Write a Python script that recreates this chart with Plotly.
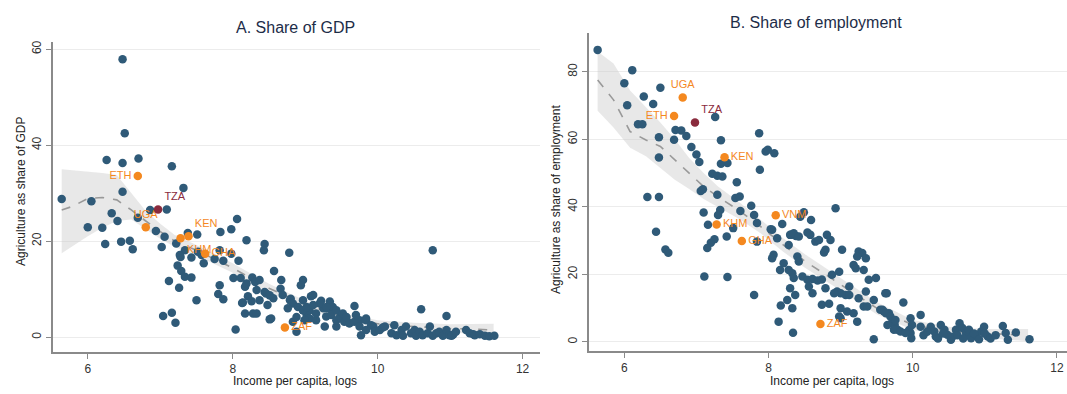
import plotly.graph_objects as go

# ---------------- Panel A: share of GDP ----------------
gdp_x = [6.48, 6.51, 6.26, 6.48, 6.70, 7.16, 7.32, 6.48, 5.64, 6.05, 6.86, 7.09, 6.33, 6.41, 6.69,
         6.00, 6.20, 6.94, 7.06, 7.38, 7.51, 7.83, 7.98, 8.06, 8.19, 6.24, 6.46, 6.58, 6.62, 7.02,
         7.22, 7.34, 7.28, 7.43, 7.57, 7.75, 7.87, 8.08, 7.24, 7.29, 7.34, 7.43, 7.12, 7.26, 7.60,
         7.82, 7.80, 7.87, 7.50, 8.01, 8.11, 8.17, 8.13, 8.17, 7.04, 7.16, 7.21, 8.04, 8.28, 8.33,
         8.44, 8.43, 8.19, 8.27, 8.31, 8.33, 8.46, 8.21, 8.26, 8.48, 8.51, 8.78, 10.76, 8.57, 8.67,
         8.97, 8.94, 8.66, 9.08, 8.80, 8.97, 9.22, 9.34, 9.68, 10.60, 10.95, 8.53, 8.83, 8.37, 8.44,
         8.51, 8.37, 8.56, 8.69, 8.79, 8.83, 8.76, 8.90, 8.97, 9.02, 9.06, 9.11, 9.32, 9.38, 9.48,
         8.14, 8.88, 8.99, 9.15, 9.27, 9.43, 9.61, 9.75, 9.84, 9.94, 10.07, 11.22, 11.32, 11.04,
         9.06, 9.15, 9.25, 9.29, 9.36, 9.43, 9.50, 9.54, 9.61, 9.68, 9.75, 9.77, 9.84, 9.84, 9.91,
         9.96, 10.03, 10.10, 10.19, 10.23, 10.26, 10.33, 10.35, 10.39, 10.46, 10.51, 10.53, 10.58,
         10.62, 10.69, 10.72, 10.76, 10.81, 10.85, 10.90, 10.95, 10.99, 11.02, 11.08, 11.27, 11.34,
         11.41, 11.48, 11.54, 11.61, 8.88, 8.97, 9.02, 9.20, 9.11, 9.29, 9.43, 9.52, 9.57, 9.70,
         7.52, 7.82, 7.98, 7.27]
gdp_y = [57.9, 42.5, 36.9, 36.3, 37.2, 35.6, 31.1, 30.3, 28.8, 28.3, 26.5, 26.6, 25.8, 24.2, 24.9,
         22.9, 22.8, 22.1, 20.9, 21.7, 21.4, 21.9, 22.5, 24.6, 20.2, 19.4, 19.9, 20.1, 18.3, 18.8,
         19.5, 18.1, 16.7, 16.6, 17.1, 16.3, 15.9, 15.9, 14.9, 13.8, 12.6, 12.4, 11.7, 10.3, 15.4,
         10.8, 9.0, 7.9, 7.7, 12.3, 12.3, 10.5, 7.1, 4.9, 4.4, 5.1, 3.0, 1.6, 4.9, 4.9,
         19.4, 18.1, 11.2, 12.4, 11.5, 9.8, 9.1, 8.5, 7.5, 6.7, 3.7, 17.6, 18.1, 13.8, 11.9,
         11.9, 10.8, 10.1, 8.5, 8.0, 7.7, 7.6, 7.4, 6.5, 5.8, 4.4, 3.9, 3.2, 11.9, 9.4,
         8.7, 7.7, 8.1, 8.8, 7.7, 7.0, 6.0, 6.3, 5.6, 4.6, 3.9, 8.8, 6.0, 6.3, 4.2,
         7.2, 4.2, 3.5, 3.5, 2.2, 2.2, 2.9, 3.5, 3.9, 2.2, 2.0, 1.5, 0.6, 0.5,
         5.6, 4.9, 6.0, 4.3, 4.6, 3.5, 3.9, 3.2, 2.9, 3.2, 2.2, 0.4, 3.5, 1.5, 2.5,
         1.1, 1.5, 2.2, 0.8, 2.5, 0.4, 1.5, 0.3, 2.2, 0.8, 1.5, 0.3, 1.1,
         0.4, 0.8, 2.2, 0.3, 0.8, 1.1, 0.3, 1.5, 0.4, 0.3, 1.1, 0.8, 0.4,
         0.6, 0.3, 0.2, 0.3, 1.1, 5.6, 6.3, 7.0, 6.7, 6.3, 5.6, 4.9, 4.2, 4.6,
         17.8, 18.1, 17.4, 17.1]

gdp_hl_names = ["ETH", "UGA", "KHM", "KEN", "GHA", "ZAF"]
gdp_hl_x = [6.69, 6.80, 7.28, 7.39, 7.62, 8.72]
gdp_hl_y = [33.6, 22.9, 20.6, 21.0, 17.4, 2.0]
gdp_hl_pos = ["middle left", "top center", "bottom right", "top right", "middle right", "middle right"]
gdp_tza = (6.97, 26.6)

gdp_fit_x = [5.64, 5.8, 6.0, 6.2, 6.4, 6.6, 6.8, 7.0, 7.2, 7.5, 8.0, 8.5, 9.0, 9.5, 10.0, 10.5, 11.0, 11.6]
gdp_fit_y = [26.5, 27.3, 28.9, 29.1, 28.6, 26.5, 24.2, 22.0, 20.0, 18.1, 14.4, 10.2, 6.8, 4.3, 2.8, 2.2, 1.8, 1.5]
gdp_fit_hi = [35.0, 34.8, 34.5, 34.2, 33.8, 30.0, 26.3, 23.6, 21.3, 19.2, 15.4, 11.1, 7.6, 5.0, 3.5, 3.0, 2.7, 2.8]
gdp_fit_lo = [17.5, 19.0, 21.0, 22.8, 24.2, 24.5, 22.5, 20.5, 18.8, 17.0, 13.4, 9.3, 6.0, 3.6, 2.1, 1.5, 1.0, 0.3]

# ---------------- Panel B: share of employment ----------------
emp_x = [5.63, 6.11, 6.00, 6.04, 6.27, 6.50, 6.40, 6.19, 6.25, 7.26, 6.48, 6.71, 6.79, 6.86, 6.69,
         6.48, 6.93, 7.00, 7.04, 7.34, 7.34, 7.43, 7.22, 7.29, 7.36, 7.56, 7.87, 7.96, 7.99, 8.08,
         7.88, 7.06, 7.09, 7.29, 7.54, 7.60, 6.32, 6.48, 7.76, 7.33, 7.30, 7.61, 7.80, 7.10, 7.16,
         7.51, 7.84, 8.05, 8.19, 7.42, 8.03, 8.12, 8.31, 8.38, 7.25, 7.20, 7.15, 6.44, 6.57, 6.61,
         7.84, 7.11, 7.43, 7.80, 8.49, 8.44, 8.59, 8.93, 8.30, 8.35, 8.42, 8.54, 8.58, 8.28, 8.65,
         8.70, 8.81, 8.86, 8.79, 8.77, 9.02, 8.40, 8.42, 8.07, 8.05, 8.21, 8.33, 8.35, 8.16, 8.28,
         8.47, 8.54, 8.61, 8.68, 8.74, 8.56, 8.61, 8.79, 8.88, 8.98, 9.18, 9.21, 9.32, 9.25, 9.30,
         9.35, 9.23, 9.12, 8.95, 9.00, 9.07, 9.12, 8.91, 9.25, 9.32, 9.39, 9.49, 9.35, 9.62, 9.46,
         8.30, 8.37, 8.26, 8.17, 8.33, 8.14, 8.34, 8.74, 8.84, 9.00, 9.09, 8.98, 9.00, 9.18, 9.23,
         9.37, 9.55, 9.60, 9.67, 9.87, 9.72, 9.75, 9.79, 9.97, 10.11, 9.99, 9.95, 9.97, 10.11, 9.46,
         9.64, 9.58, 9.63, 9.69, 9.76, 9.65, 9.74, 9.83, 9.90, 9.98, 10.25, 10.30, 10.32, 10.39, 10.44,
         10.48, 10.53, 10.60, 10.65, 10.69, 10.74, 10.78, 10.81, 10.88, 10.95, 10.99, 11.04, 11.25, 11.29, 11.32,
         11.43, 11.62, 10.15, 10.20, 10.35, 10.42, 10.55, 10.62, 10.70, 10.85, 10.92, 11.00, 11.08, 11.15]
emp_y = [86.5, 80.5, 76.6, 70.1, 72.7, 75.3, 70.5, 64.5, 64.5, 66.6, 60.6, 62.8, 62.6, 61.0, 59.9,
         54.6, 57.7, 55.5, 53.3, 59.7, 52.8, 53.0, 49.8, 49.2, 49.0, 47.3, 61.8, 56.4, 56.9, 55.9,
         51.0, 44.7, 45.2, 43.6, 42.6, 43.1, 42.9, 42.9, 40.3, 39.1, 37.6, 38.8, 37.6, 38.3, 34.7,
         33.7, 35.2, 33.2, 34.9, 31.2, 33.4, 30.7, 31.7, 31.4, 30.4, 29.4, 27.8, 32.6, 27.4, 26.4,
         29.7, 19.4, 19.2, 13.9, 38.4, 37.1, 36.1, 39.6, 31.7, 32.2, 31.2, 32.4, 31.7, 28.7, 29.7,
         30.2, 31.7, 30.2, 27.3, 26.5, 27.3, 25.3, 23.8, 25.8, 24.8, 23.3, 20.3, 18.9, 21.3, 21.3,
         19.4, 18.4, 18.6, 18.2, 18.5, 16.4, 14.4, 15.9, 19.9, 20.8, 22.8, 21.8, 21.3, 26.8, 26.3,
         24.8, 25.3, 16.4, 14.9, 14.4, 13.9, 13.9, 14.4, 12.9, 10.5, 18.4, 18.9, 14.9, 14.4, 12.4,
         15.9, 13.9, 12.4, 10.8, 10.0, 6.0, 2.7, 11.0, 11.3, 10.0, 9.0, 7.5, 7.0, 8.5, 6.0,
         10.5, 9.5, 9.0, 8.5, 11.7, 6.5, 5.0, 3.6, 7.0, 8.0, 5.0, 3.5, 2.6, 4.5, 0.8,
         14.4, 9.5, 8.5, 7.5, 6.5, 5.0, 3.6, 3.1, 2.6, 1.1, 4.5, 3.1, 1.6, 5.0, 3.6,
         2.1, 0.6, 3.6, 5.5, 4.1, 2.6, 3.6, 1.1, 2.1, 3.1, 4.5, 1.6, 4.7, 2.6, 0.6,
         2.8, 0.8, 2.0, 3.0, 1.0, 2.5, 1.5, 2.0, 1.0, 2.5, 0.8, 2.5, 1.0, 2.0]

emp_hl_names = ["UGA", "ETH", "KEN", "VNM", "KHM", "GHA", "ZAF"]
emp_hl_x = [6.81, 6.69, 7.39, 8.10, 7.28, 7.63, 8.72]
emp_hl_y = [72.4, 66.9, 54.7, 37.5, 34.8, 29.9, 5.3]
emp_hl_pos = ["top center", "middle left", "middle right", "middle right", "middle right", "middle right", "middle right"]
emp_tza = (6.98, 65.0)

emp_fit_x = [5.63, 5.85, 6.08, 6.3, 6.5, 6.7, 6.9, 7.1, 7.3, 7.6, 7.9, 8.2, 8.5, 9.0, 9.5, 10.0, 10.5, 11.0, 11.6]
emp_fit_y = [77.6, 71.7, 62.3, 59.8, 57.9, 53.9, 49.8, 46.0, 43.0, 38.8, 34.0, 28.8, 24.0, 17.0, 10.0, 5.0, 3.2, 2.5, 2.0]
emp_fit_hi = [86.0, 82.5, 74.5, 69.5, 65.0, 60.0, 54.5, 50.0, 46.0, 41.3, 36.0, 30.8, 26.0, 18.8, 11.8, 6.5, 4.5, 3.8, 3.8]
emp_fit_lo = [68.5, 63.5, 57.5, 55.0, 51.5, 48.0, 45.3, 42.3, 40.0, 36.3, 32.0, 26.8, 22.0, 15.2, 8.2, 3.5, 1.9, 1.2, 0.2]

x_ticks = [6, 8, 10, 12]
gdp_ticks = [0, 20, 40, 60]
emp_ticks = [0, 20, 40, 60, 80]

BLUE = "#2f5a78"
ORANGE = "#f4881f"
MAROON = "#8a2b3d"
FONT = "Liberation Sans, Arial, sans-serif"

fig = go.Figure()

def add_panel(xa, ya, px, py, hx, hy, names, pos, tza, fx, fy, fhi, flo):
    fig.add_trace(go.Scatter(x=fx + fx[::-1], y=fhi + flo[::-1], fill="toself",
                             fillcolor="rgba(200,200,200,0.42)", line=dict(width=0),
                             mode="lines", xaxis=xa, yaxis=ya, hoverinfo="skip", showlegend=False))
    fig.add_trace(go.Scatter(x=fx, y=fy, mode="lines", line=dict(color="#999999", width=1.6, dash="dash"),
                             xaxis=xa, yaxis=ya, showlegend=False))
    fig.add_trace(go.Scatter(x=px, y=py, mode="markers", marker=dict(color=BLUE, size=8.5),
                             xaxis=xa, yaxis=ya, showlegend=False))
    fig.add_trace(go.Scatter(x=hx, y=hy, mode="markers+text", text=names, textposition=pos,
                             textfont=dict(color=ORANGE, size=11, family=FONT),
                             marker=dict(color=ORANGE, size=8.5),
                             xaxis=xa, yaxis=ya, showlegend=False))
    fig.add_trace(go.Scatter(x=[tza[0]], y=[tza[1]], mode="markers+text", text=["TZA"],
                             textposition="top right",
                             textfont=dict(color=MAROON, size=11, family=FONT),
                             marker=dict(color=MAROON, size=8.5),
                             xaxis=xa, yaxis=ya, showlegend=False))

add_panel("x", "y", gdp_x, gdp_y, gdp_hl_x, gdp_hl_y, gdp_hl_names, gdp_hl_pos, gdp_tza,
          gdp_fit_x, gdp_fit_y, gdp_fit_hi, gdp_fit_lo)
add_panel("x2", "y2", emp_x, emp_y, emp_hl_x, emp_hl_y, emp_hl_names, emp_hl_pos, emp_tza,
          emp_fit_x, emp_fit_y, emp_fit_hi, emp_fit_lo)

W, H = 1067, 394
axis_common = dict(showline=True, linecolor="#8a8a8a", linewidth=1.5, ticks="outside",
                   ticklen=5, tickcolor="#8a8a8a", tickfont=dict(size=12, color="#333333", family=FONT),
                   zeroline=False, automargin=False)

fig.update_layout(
    width=W, height=H, margin=dict(l=0, r=0, t=0, b=0),
    paper_bgcolor="white", plot_bgcolor="white",
    font=dict(family=FONT),
    xaxis=dict(domain=[53 / W, 540 / W], range=[5.52, 12.24], tickvals=x_ticks,
               showgrid=False, anchor="y", **axis_common),
    yaxis=dict(domain=[(H - 352) / H, (H - 42) / H], range=[-3.1, 61.5], tickvals=gdp_ticks,
               showgrid=True, gridcolor="#ececec", gridwidth=1, tickangle=-90, anchor="x", **axis_common),
    xaxis2=dict(domain=[589 / W, 1.0], range=[5.51, 12.14], tickvals=x_ticks,
                showgrid=False, anchor="y2", **axis_common),
    yaxis2=dict(domain=[(H - 351) / H, (H - 33) / H], range=[-2.7, 91.5], tickvals=emp_ticks,
                showgrid=True, gridcolor="#ececec", gridwidth=1, tickangle=-90, anchor="x2", **axis_common),
)

ann = [
    dict(text="A. Share of GDP", x=295, y=28, size=16, color="#1d2d48"),
    dict(text="B. Share of employment", x=816, y=22, size=16, color="#1d2d48"),
    dict(text="Income per capita, logs", x=295, y=381, size=12, color="#222222"),
    dict(text="Income per capita, logs", x=832, y=381, size=12, color="#222222"),
]
for a in ann:
    fig.add_annotation(text=a["text"], x=a["x"] / W, y=1 - a["y"] / H, xref="paper", yref="paper",
                       showarrow=False, xanchor="center", yanchor="middle",
                       font=dict(size=a["size"], color=a["color"], family=FONT))
for txt, xx, yy in [("Agriculture as share of GDP", 21, 192), ("Agriculture as share of employment", 556, 200)]:
    fig.add_annotation(text=txt, x=xx / W, y=1 - yy / H, xref="paper", yref="paper", showarrow=False,
                       textangle=-90, xanchor="center", yanchor="middle",
                       font=dict(size=12, color="#222222", family=FONT))

fig.write_html("out.html")
